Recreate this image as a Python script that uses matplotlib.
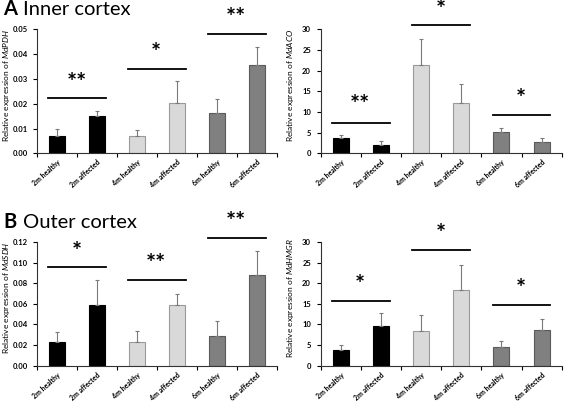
import matplotlib
matplotlib.use("Agg")
import matplotlib.pyplot as plt
import matplotlib.transforms as mtransforms
import numpy as np

plt.rcParams['font.family'] = ['Lato', 'DejaVu Sans']
plt.rcParams['mathtext.fontset'] = 'custom'
plt.rcParams['mathtext.rm'] = 'Lato'
plt.rcParams['mathtext.it'] = 'Lato:italic'
plt.rcParams['mathtext.bf'] = 'Lato:bold'

categories = ['2m healthy', '2m affected', '4m healthy', '4m affected', '6m healthy', '6m affected']

pdh_mean = [0.0070, 0.0149, 0.0070, 0.0204, 0.0164, 0.0356]
pdh_err = [0.0029, 0.0020, 0.0023, 0.0086, 0.0054, 0.0071]
aco_mean = [3.8, 2.0, 21.45, 12.26, 5.08, 2.8]
aco_err = [0.55, 0.9, 6.25, 4.54, 0.97, 1.0]
sdh_mean = [0.0226, 0.0585, 0.0230, 0.0589, 0.0288, 0.0877]
sdh_err = [0.0101, 0.0243, 0.0103, 0.0106, 0.0149, 0.0239]
hmgr_mean = [3.87, 9.6, 8.3, 18.47, 4.5, 8.7]
hmgr_err = [1.21, 3.06, 4.1, 6.03, 1.4, 2.67]

pdh_sig_y = [0.0222, 0.0339, 0.0481]
pdh_star_y = [0.0298, 0.0417, 0.0558]
pdh_stars = ['**', '*', '**']
aco_sig_y = [7.4, 31.05, 9.27]
aco_star_y = [12.5, 35.6, 13.95]
aco_stars = ['**', '*', '*']
sdh_sig_y = [0.0954, 0.0835, 0.1242]
sdh_star_y = [0.1139, 0.1025, 0.143]
sdh_stars = ['*', '**', '**']
hmgr_sig_y = [15.8, 27.98, 14.68]
hmgr_star_y = [20.5, 32.7, 19.35]
hmgr_stars = ['*', '*', '*']

fills = ['#000000', '#000000', '#d9d9d9', '#d9d9d9', '#808080', '#808080']
edges = ['#000000', '#000000', '#9a9a9a', '#9a9a9a', '#5a5a5a', '#5a5a5a']

fig = plt.figure(figsize=(5.67, 4.01), dpi=100)
W, H = 567, 401

def make_ax(x0, x1, ytop, ybot):
    return fig.add_axes([x0 / W, 1 - ybot / H, (x1 - x0) / W, (ybot - ytop) / H])

def panel(ax, mean, err, ymax, step, fmt, gene, sig_y, star_y, stars, label_x):
    x = np.arange(len(categories))
    ax.bar(x, mean, width=0.4, color=fills, edgecolor=edges, linewidth=0.8, zorder=2)
    ax.errorbar(x, mean, yerr=[np.zeros(len(err)), err], fmt='none', ecolor='#7a7a7a',
                elinewidth=0.8, capsize=1.5, capthick=0.8, zorder=3)
    ax.set_xlim(-0.5, 5.5)
    ax.set_ylim(0, ymax)
    ax.set_yticks(np.arange(0, ymax + step / 2, step))
    ax.yaxis.set_major_formatter(matplotlib.ticker.FormatStrFormatter(fmt))
    ax.set_xticks(np.arange(-0.5, 5.6, 1.0))
    ax.set_xticklabels([])
    ax.set_xticks(x, minor=True)
    ax.set_xticklabels(categories, minor=True, rotation=42, ha='right', rotation_mode='anchor',
                       fontsize=5, fontweight='bold')
    ax.tick_params(axis='x', which='minor', length=0, pad=4)
    ax.tick_params(axis='x', which='major', length=3, width=0.8, direction='out')
    ax.tick_params(axis='y', length=3, width=0.8, direction='out', labelsize=5.5, pad=4)
    for t in ax.get_yticklabels():
        t.set_fontweight('bold')
    for s in ['top', 'right']:
        ax.spines[s].set_visible(False)
    for s in ['left', 'bottom']:
        ax.spines[s].set_linewidth(0.8)
        ax.spines[s].set_color('#333333')
    ax.set_ylabel('Relative expression of $\\mathit{' + gene + '}$', fontsize=6)
    ax.yaxis.set_label_coords(label_x, 0.55)
    star_tr = mtransforms.offset_copy(ax.transData, fig=fig, x=0, y=-4, units='dots')
    for i in range(3):
        c = 2 * i + 0.5
        ax.plot([c - 0.72, c + 0.72], [sig_y[i], sig_y[i]], color='black', lw=1.3,
                clip_on=False, zorder=4)
        ax.text(c - 0.02, star_y[i], stars[i], ha='center', va='center', fontsize=17,
                fontweight='bold', clip_on=False, transform=star_tr)

axA1 = make_ax(37.3, 276.7, 29.3, 153.3)
panel(axA1, pdh_mean, pdh_err, 0.05, 0.01, '%.2f', 'MdPDH', pdh_sig_y, pdh_star_y, pdh_stars, -0.107)
axA2 = make_ax(320.7, 561.7, 29.3, 153.3)
panel(axA2, aco_mean, aco_err, 30, 5, '%d', 'MdACO', aco_sig_y, aco_star_y, aco_stars, -0.102)
axB1 = make_ax(37.3, 276.7, 242.0, 365.7)
panel(axB1, sdh_mean, sdh_err, 0.12, 0.02, '%.2f', 'MdSDH', sdh_sig_y, sdh_star_y, sdh_stars, -0.107)
axB2 = make_ax(320.7, 561.7, 242.0, 365.7)
panel(axB2, hmgr_mean, hmgr_err, 30, 5, '%d', 'MdHMGR', hmgr_sig_y, hmgr_star_y, hmgr_stars, -0.102)

fig.text(3 / W, 1 - 15 / H, 'A', fontsize=14.5, fontweight='bold', ha='left', va='baseline')
fig.text(23 / W, 1 - 15 / H, 'Inner cortex', fontsize=14.5, ha='left', va='baseline')
fig.text(3 / W, 1 - 228 / H, 'B', fontsize=14.5, fontweight='bold', ha='left', va='baseline')
fig.text(23 / W, 1 - 228 / H, 'Outer cortex', fontsize=14.5, ha='left', va='baseline')

fig.savefig('out.png', dpi=100)
